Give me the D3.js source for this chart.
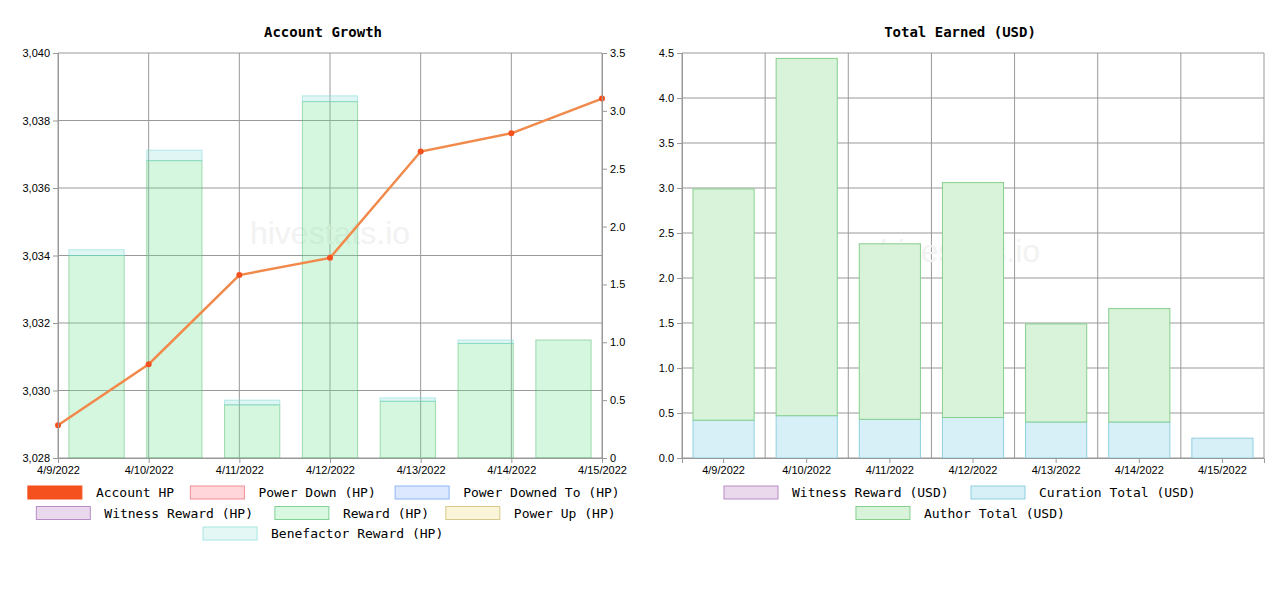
<!DOCTYPE html><html><head><meta charset="utf-8"><script src="https://cdn.jsdelivr.net/npm/d3@7"></script>
<style>body{margin:0;background:#fff}svg{display:block}</style></head><body><svg id="c" width="1280" height="600"></svg>
<script>
const dates=["4/9/2022","4/10/2022","4/11/2022","4/12/2022","4/13/2022","4/14/2022","4/15/2022"];
const accountHP=[3028.97,3030.78,3033.42,3033.93,3037.08,3037.62,3038.65];
const rewardHP=[1.75,2.57,0.46,3.08,0.49,0.99,1.02];
const benefactorHP=[0.05,0.09,0.04,0.05,0.03,0.03,0];
const curationUSD=[0.42,0.47,0.43,0.45,0.40,0.40,0.22];
const authorUSD=[2.57,3.97,1.95,2.61,1.09,1.26,0];
const leftTicks=[3028,3030,3032,3034,3036,3038,3040];
const svg=d3.select("#c");
const mono="'DejaVu Sans Mono',monospace", sans="'Liberation Sans',Arial,sans-serif";
function grid(g,x0,x1,y0,y1){}
// LEFT
{
const L=58,R=602,T=53,B=458;
const yL=d3.scaleLinear().domain([3028,3040]).range([B,T]);
const yR=d3.scaleLinear().domain([0,3.5]).range([B,T]);
const xp=d3.scalePoint().domain(dates).range([L,R]);
const xb=d3.scaleBand().domain(dates).range([L,R]).paddingInner(0.29).paddingOuter(0.14);
const g=svg.append("g");
g.selectAll(".hg").data(leftTicks).join("line").attr("x1",L).attr("x2",R).attr("y1",d=>yL(d)).attr("y2",d=>yL(d)).attr("stroke","#999");
g.selectAll(".vg").data(dates).join("line").attr("x1",d=>xp(d)).attr("x2",d=>xp(d)).attr("y1",T).attr("y2",B).attr("stroke","#999");
g.append("text").attr("x",330).attr("y",244).attr("text-anchor","middle").attr("font-family",sans).attr("font-size",32).attr("fill","#f2f2f2").text("hivestats.io");
g.selectAll(".rb").data(dates).join("rect").attr("x",d=>xb(d)).attr("width",xb.bandwidth()).attr("y",(d,i)=>yR(rewardHP[i])).attr("height",(d,i)=>B-yR(rewardHP[i])).attr("fill","rgba(120,230,150,0.3)").attr("stroke","rgba(80,190,110,0.5)");
g.selectAll(".bb").data(dates).join("rect").attr("x",d=>xb(d)).attr("width",xb.bandwidth()).attr("y",(d,i)=>yR(rewardHP[i]+benefactorHP[i])).attr("height",(d,i)=>yR(rewardHP[i])-yR(rewardHP[i]+benefactorHP[i])).attr("fill","rgba(150,225,220,0.3)").attr("stroke","rgba(120,220,215,0.5)");
const line=d3.line().x((d,i)=>xp(dates[i])).y(d=>yL(d));
g.append("path").attr("d",line(accountHP)).attr("fill","none").attr("stroke","#f0894a").attr("stroke-width",2.5);
g.selectAll(".pt").data(accountHP).join("circle").attr("cx",(d,i)=>xp(dates[i])).attr("cy",d=>yL(d)).attr("r",3).attr("fill","#f4511e");
const ax=g.append("g").attr("transform",`translate(0,${B})`).call(d3.axisBottom(xp).tickSize(5));
const al=g.append("g").attr("transform",`translate(${L},0)`).call(d3.axisLeft(yL).tickValues(leftTicks).tickFormat(d3.format(",")).tickSize(5));
const ar=g.append("g").attr("transform",`translate(${R},0)`).call(d3.axisRight(yR).ticks(7).tickFormat(d=>d===0?"0":d3.format(".1f")(d)).tickSize(5));
[ax,al,ar].forEach(a=>{a.selectAll("text").attr("font-family",sans).attr("font-size",11).attr("fill","#000");a.selectAll("line,path").attr("stroke","#999");});
g.append("text").attr("x",323).attr("y",37).attr("text-anchor","middle").attr("font-family",mono).attr("font-weight","bold").attr("font-size",14).text("Account Growth");
const leg=[["Account HP","#f4511e","#f4511e"],["Power Down (HP)","#ffd6d9","#f08c95"],["Power Downed To (HP)","#dce8ff","#8fb4f5"],["Witness Reward (HP)","#ead8ec","#b88cc4"],["Reward (HP)","#d8f8e0","#7fd196"],["Power Up (HP)","#faf5d8","#d9c98a"],["Benefactor Reward (HP)","#e4f7f5","#a6e8e2"]];
const rows=[[0,1,2],[3,4,5],[6]];
rows.forEach((r,ri)=>{
 const items=r.map(i=>leg[i]); const widths=items.map(it=>56+12+it[0].length*8.45+10);
 const tot=d3.sum(widths)-10; let x=330-tot/2;
 items.forEach((it,k)=>{const y=486+ri*20.5;
  g.append("rect").attr("x",x).attr("y",y).attr("width",54).attr("height",13).attr("fill",it[1]).attr("stroke",it[2]);
  g.append("text").attr("x",x+68).attr("y",y+11).attr("font-family",mono).attr("font-size",13).text(it[0]);
  x+=widths[k];});
});
}
// RIGHT
{
const L=682,R=1264,T=53,B=458;
const y=d3.scaleLinear().domain([0,4.5]).range([B,T]);
const xb=d3.scaleBand().domain(dates).range([L,R]);
const pad=11;
const g=svg.append("g");
const ticks=d3.range(0,4.51,0.5);
g.selectAll(".hg").data(ticks).join("line").attr("x1",L).attr("x2",R).attr("y1",d=>y(d)).attr("y2",d=>y(d)).attr("stroke","#999");
g.selectAll(".vg").data(dates.concat(["end"])).join("line").attr("x1",(d,i)=>L+i*xb.step()).attr("x2",(d,i)=>L+i*xb.step()).attr("y1",T).attr("y2",B).attr("stroke","#999");
g.append("text").attr("x",960).attr("y",262).attr("text-anchor","middle").attr("font-family",sans).attr("font-size",32).attr("fill","#f2f2f2").text("hivestats.io");
g.selectAll(".cb").data(dates).join("rect").attr("x",d=>xb(d)+pad).attr("width",xb.bandwidth()-2*pad).attr("y",(d,i)=>y(curationUSD[i])).attr("height",(d,i)=>B-y(curationUSD[i])).attr("fill","#d7f0f8").attr("stroke","#8fcfdf");
g.selectAll(".ab").data(dates).join("rect").attr("x",d=>xb(d)+pad).attr("width",xb.bandwidth()-2*pad).attr("y",(d,i)=>y(curationUSD[i]+authorUSD[i])).attr("height",(d,i)=>y(curationUSD[i])-y(curationUSD[i]+authorUSD[i])).attr("fill","#d8f3da").attr("stroke","#86cf8c").attr("display",(d,i)=>authorUSD[i]>0?null:"none");
const ax=g.append("g").attr("transform",`translate(0,${B})`).call(d3.axisBottom(xb).tickSize(5));
const al=g.append("g").attr("transform",`translate(${L},0)`).call(d3.axisLeft(y).tickValues(ticks).tickFormat(d3.format(".1f")).tickSize(5));
[ax,al].forEach(a=>{a.selectAll("text").attr("font-family",sans).attr("font-size",11).attr("fill","#000");a.selectAll("line,path").attr("stroke","#999");});
g.append("text").attr("x",960).attr("y",37).attr("text-anchor","middle").attr("font-family",mono).attr("font-weight","bold").attr("font-size",14).text("Total Earned (USD)");
const leg=[["Witness Reward (USD)","#ead8ec","#b88cc4"],["Curation Total (USD)","#d7f0f8","#8fcfdf"],["Author Total (USD)","#d8f3da","#86cf8c"]];
[[0,1],[2]].forEach((r,ri)=>{
 const items=r.map(i=>leg[i]); const widths=items.map(it=>56+12+it[0].length*8.45+10);
 const tot=d3.sum(widths)-10; let x=966-tot/2;
 items.forEach((it,k)=>{const yy=486+ri*20.5;
  g.append("rect").attr("x",x).attr("y",yy).attr("width",54).attr("height",13).attr("fill",it[1]).attr("stroke",it[2]);
  g.append("text").attr("x",x+68).attr("y",yy+11).attr("font-family",mono).attr("font-size",13).text(it[0]);
  x+=widths[k];});
});
}
</script></body></html>
